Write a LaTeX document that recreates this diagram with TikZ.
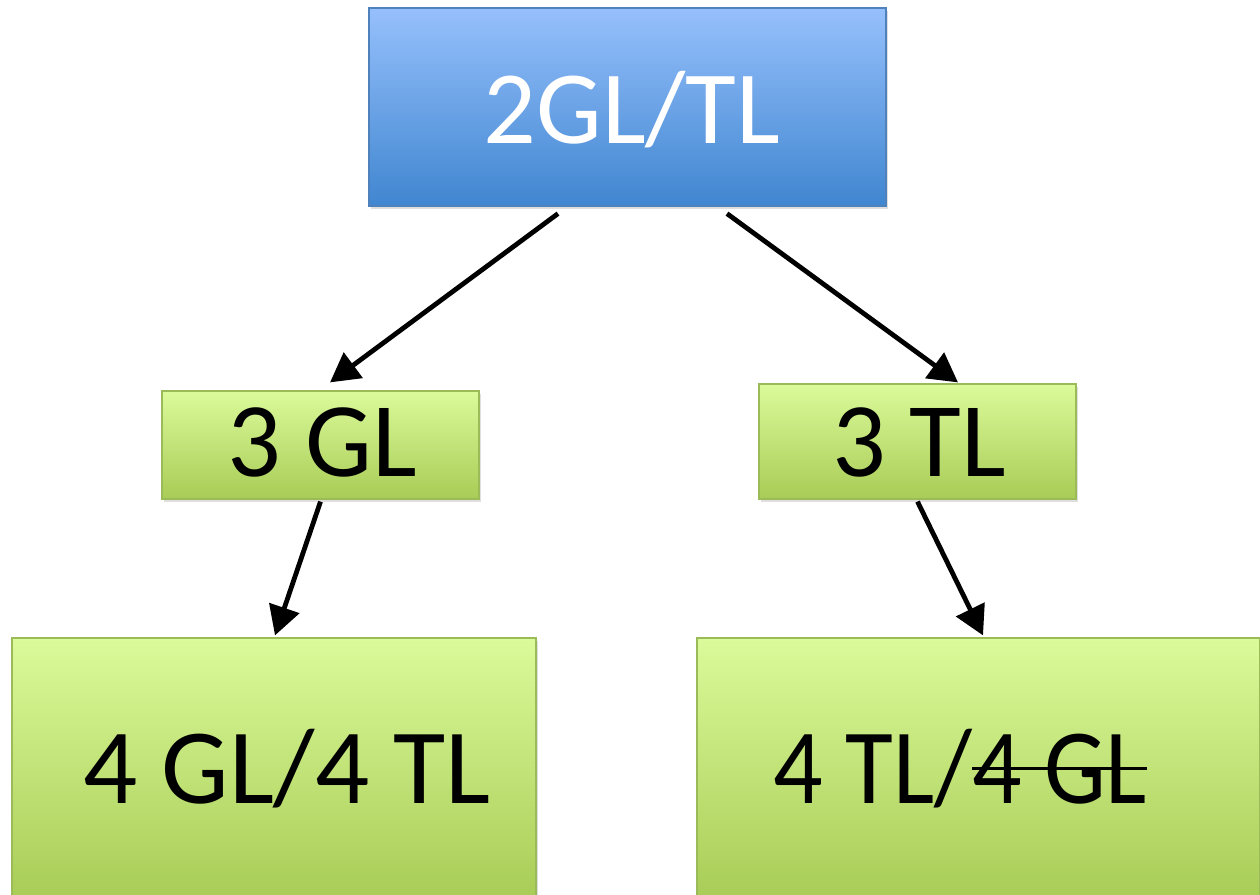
\documentclass[tikz,border=0pt]{standalone}
\usepackage{fontspec}
\usepackage{graphicx}
\setmainfont{Carlito}
\usetikzlibrary{calc,arrows.meta,shadows}
\definecolor{bluetop}{RGB}{150,192,252}
\definecolor{bluebot}{RGB}{64,134,208}
\definecolor{blueedge}{RGB}{79,129,189}
\definecolor{greentop}{RGB}{219,250,154}
\definecolor{greenbot}{RGB}{168,204,86}
\definecolor{greenedge}{RGB}{155,187,89}
\newcommand\mystrike[1]{\leavevmode\sbox0{#1}\rlap{\rule[0.31em]{\wd0}{3.2pt}}#1}
\tikzset{
  bluebox/.style={draw=blueedge, line width=1.2pt, top color=bluetop, bottom color=bluebot,
    inner sep=0pt, drop shadow={opacity=0.25, shadow xshift=2pt, shadow yshift=-3pt}},
  greenbox/.style={draw=greenedge, line width=1.2pt, top color=greentop, bottom color=greenbot,
    inner sep=0pt, drop shadow={opacity=0.25, shadow xshift=2pt, shadow yshift=-3pt}},
  toptext/.style={font=\fontsize{104}{116}\selectfont, inner sep=0pt},
  bigtext/.style={font=\fontsize{107}{120}\selectfont, inner sep=0pt},
  midtext/.style={font=\fontsize{106}{118}\selectfont, inner sep=0pt},
  arr/.style={line width=4.8pt, -{Triangle[length=29pt,width=31pt]}}
}
\begin{document}
\begin{tikzpicture}[x=1pt,y=-1pt]
\useasboundingbox (0,0) rectangle (1260,894);
% boxes
\node[bluebox, minimum width=517pt, minimum height=198pt] (top) at (627.5,107) {};
\node[greenbox, minimum width=317pt, minimum height=108pt] (gl3) at (320.5,445) {};
\node[greenbox, minimum width=317pt, minimum height=115pt] (tl3) at (917.5,441.5) {};
\node[greenbox, minimum width=524pt, minimum height=262pt] (gltl) at (274,769) {};
\node[greenbox, minimum width=563pt, minimum height=262pt] (tlgl) at (978.5,769) {};
% texts
\node[toptext, text=white, anchor=base] (ttop) at (632,143) {2GL/TL};
\node[midtext, anchor=base] (tgl3) at (322,476) {3 GL};
\node[midtext, anchor=base] (ttl3) at (919,476) {3 TL};
\node[bigtext, anchor=base] (tgltl) at (287,803) {4 GL/4 TL};
\node[bigtext, anchor=base] (ttlgl) at (960.5,803) {\scalebox{0.915}[1]{4 TL/\mystrike{4 GL}}};
% connectors
\draw[arr] ($(top.south)+(-69.5,7)$) -- ($(gl3.north)+(9.5,-8)$);
\draw[arr] ($(top.south)+(99.5,7)$) -- ($(tl3.north)+(40.5,-1)$);
\draw[arr] ($(gl3.south)+(0,2)$) -- ($(gltl.north)+(1,-2)$);
\draw[arr] ($(tl3.south)+(0,2)$) -- ($(tlgl.north)+(4.5,-2)$);
\end{tikzpicture}
\end{document}
